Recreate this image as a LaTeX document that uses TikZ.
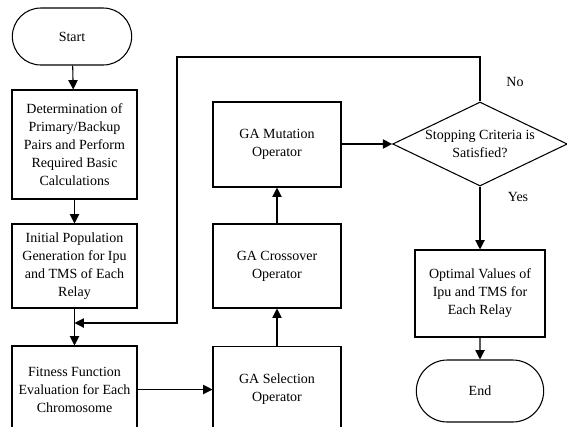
\documentclass[tikz,border=0pt]{standalone}
\usepackage{fontspec}
\setmainfont{Liberation Serif}
\usetikzlibrary{arrows.meta, shapes.geometric, shapes.misc}

\begin{document}
\begin{tikzpicture}[x=0.75pt, y=-0.75pt, line width=0.8pt,
  font=\fontsize{10.5}{13.5}\selectfont,
  procbox/.style={draw, rectangle, align=center, inner sep=1pt, minimum width=93.75pt},
  termbox/.style={draw, rounded rectangle, align=center, inner sep=1pt},
  decbox/.style={draw, diamond, aspect=2.08, align=center, inner sep=0pt, minimum width=131pt, minimum height=63pt},
  arr/.style={-{Triangle[length=7pt, width=7pt]}}]
\useasboundingbox (0,0) rectangle (567,426);
\clip (0,0) rectangle (567,426);

% Left column
\node[termbox, minimum width=91.5pt, minimum height=42.75pt] (start) at (72, 36.5) {Start};
\node[procbox, minimum height=81.75pt] (det) at (74.5, 144.5) {Determination of\\Primary/Backup\\Pairs and Perform\\Required Basic\\Calculations};
\node[procbox, minimum height=63pt] (init) at (74.5, 266) {Initial Population\\Generation for Ipu\\and TMS of Each\\Relay};
\node[procbox, minimum height=66pt] (fit) at (74.5, 390) {Fitness Function\\Evaluation for Each\\Chromosome};

% Middle column
\node[procbox, minimum width=96pt, minimum height=65pt] (sel) at (277, 389.5) {GA Selection\\Operator};
\node[procbox, minimum width=96pt, minimum height=63pt] (cro) at (277, 266) {GA Crossover\\Operator};
\node[procbox, minimum width=96pt, minimum height=63.75pt] (mut) at (277, 144.5) {GA Mutation\\Operator};

% Right column
\node[decbox] (dec) at (480, 144) {Stopping Criteria is\\Satisfied?};
\node[procbox, minimum width=97.5pt, minimum height=65.25pt] (opt) at (480, 293.5) {Optimal Values of\\Ipu and TMS for\\Each Relay};
\node[termbox, minimum width=97.5pt, minimum height=46.5pt] (end) at (480, 391) {End};

% Loop back
\coordinate (c1) at (480, 57);
\coordinate (c2) at (177, 57);
\coordinate (c3) at (177, 323);
\coordinate (join) at (74.5, 323);

% Connectors
\draw[arr] (start) -- (det);
\draw[arr] (det) -- (init);
\draw[arr] (init) -- (fit);
\draw[arr] (fit.east |- sel.west) -- (sel.west);
\draw[arr] (sel) -- (cro);
\draw[arr] (cro) -- (mut);
\draw[arr] (mut.east |- dec.west) -- (dec.west);
\draw[arr] (dec) -- (opt);
\draw[arr] (opt) -- (end);
\draw[arr] (dec.north) -- (c1) -- (c2) -- (c3) -- (join);

% Labels
\node (no) at (515, 82) {No};
\node (yes) at (518, 197) {Yes};
\end{tikzpicture}
\end{document}
